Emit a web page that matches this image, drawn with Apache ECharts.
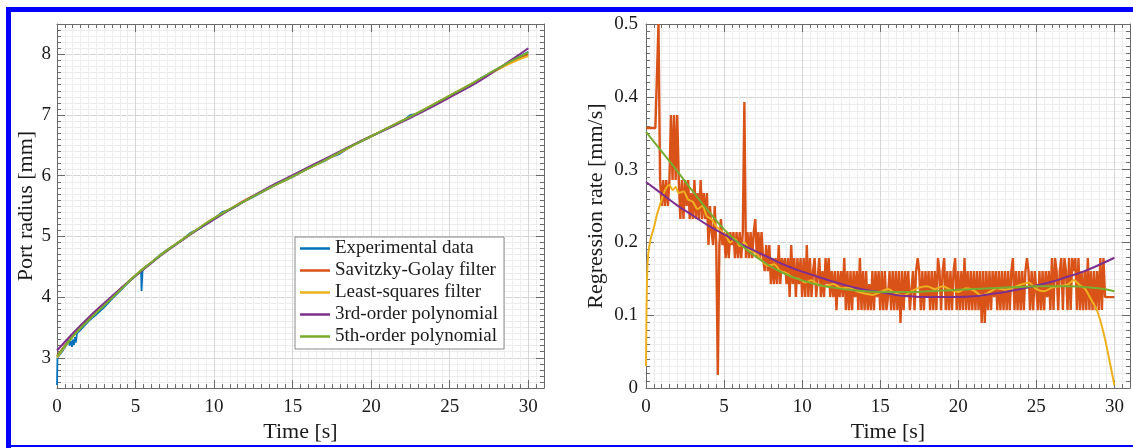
<!DOCTYPE html>
<html>
<head>
<meta charset="utf-8">
<script src="https://cdn.jsdelivr.net/npm/echarts@6.0.0/dist/echarts.min.js"></script>
<style>
  html, body { margin: 0; padding: 0; background: #ffffff; }
  #chart { width: 1133px; height: 448px; }
</style>
</head>
<body>
<div id="chart"></div>
<script>
// ---------- series names and colours ----------
const seriesNames = ['Experimental data', 'Savitzky-Golay filter', 'Least-squares filter',
                     '3rd-order polynomial', '5th-order polynomial'];
const seriesColors = ['#0072BD', '#D95319', '#EDB120', '#7E2F8E', '#77AC30'];

// ---------- port radius [mm] ----------
// measured radius: [time s, radius mm]
const expRadius = [
  [0, 2.55], [0.01, 2.7], [0.02, 2.86], [0.03, 3.0], [0.2, 3.06], [0.4, 3.13], [0.6, 3.21],
  [0.72, 3.32], [0.8, 3.2], [0.88, 3.28], [0.95, 3.18], [1.02, 3.3], [1.08, 3.21], [1.14, 3.34],
  [1.2, 3.25], [1.27, 3.4], [1.5, 3.46], [2, 3.6], [2.5, 3.71], [3, 3.83], [3.5, 3.97],
  [4, 4.1], [4.5, 4.23], [5, 4.35], [5.35, 4.44], [5.38, 4.1], [5.42, 4.13], [5.45, 4.46],
  [6, 4.57], [6.5, 4.68], [7, 4.78], [7.5, 4.86], [8, 4.95], [8.5, 5.06], [9, 5.12],
  [9.5, 5.2], [10, 5.29], [10.5, 5.4], [11, 5.44], [11.5, 5.51], [12, 5.59], [12.5, 5.65],
  [13, 5.72], [13.5, 5.79], [14, 5.86], [14.5, 5.92], [15, 5.98], [15.5, 6.05], [16, 6.12],
  [16.5, 6.18], [17, 6.24], [17.5, 6.31], [18, 6.36], [18.5, 6.45], [19, 6.52], [19.5, 6.58],
  [20, 6.65], [20.5, 6.71], [21, 6.78], [21.5, 6.84], [22, 6.9], [22.5, 7.0], [23, 7.03],
  [23.5, 7.1], [24, 7.17], [24.5, 7.24], [25, 7.3], [25.5, 7.38], [26, 7.45], [26.5, 7.52],
  [27, 7.61], [27.5, 7.68], [28, 7.75], [28.5, 7.82], [29, 7.9], [29.5, 7.97], [30, 8.04]
];
// fitted / filtered curves sampled every second
const fitTime = [0, 1, 2, 3, 4, 5, 6, 7, 8, 9, 10, 11, 12, 13, 14, 15, 16, 17, 18, 19, 20,
                 21, 22, 23, 24, 25, 26, 27, 28, 29, 30];
const radiusSG = [3.03, 3.36, 3.63, 3.87, 4.12, 4.36, 4.57, 4.77, 4.95, 5.13, 5.3, 5.45, 5.6,
                  5.73, 5.86, 5.99, 6.12, 6.25, 6.38, 6.52, 6.65, 6.78, 6.91, 7.04, 7.18, 7.32,
                  7.46, 7.6, 7.75, 7.89, 8.0];
const radiusLS = [3.0, 3.35, 3.62, 3.87, 4.12, 4.36, 4.57, 4.77, 4.95, 5.13, 5.3, 5.45, 5.59,
                  5.73, 5.86, 5.99, 6.12, 6.25, 6.38, 6.52, 6.65, 6.78, 6.91, 7.04, 7.18, 7.32,
                  7.46, 7.6, 7.74, 7.87, 7.97];
const radiusPoly3 = [3.12, 3.4, 3.66, 3.9, 4.13, 4.35, 4.56, 4.76, 4.94, 5.12, 5.28, 5.44, 5.59,
                     5.74, 5.88, 6.01, 6.14, 6.27, 6.4, 6.53, 6.65, 6.77, 6.89, 7.02, 7.15, 7.29,
                     7.43, 7.58, 7.75, 7.92, 8.1];
const radiusPoly5 = [3.02, 3.35, 3.62, 3.86, 4.11, 4.36, 4.57, 4.77, 4.95, 5.13, 5.3, 5.45, 5.59,
                     5.73, 5.86, 5.99, 6.12, 6.25, 6.39, 6.52, 6.65, 6.78, 6.91, 7.04, 7.18, 7.32,
                     7.46, 7.61, 7.76, 7.9, 8.03];

// ---------- regression rate [mm/s] ----------
// Savitzky-Golay output is quantised: one base-36 digit per 0.1 s sample,
// each digit counts steps of 1/56 mm/s
const sgTimeStep = 0.1;
const sgLevelStep = 1 / 56;
const sgLevels =
  'kkkkkkkksg' + 'egegeglglg' + 'lgdgdgegdf' + 'dgdfdgdfdf' + 'becbeb1bdb' +
  'cacacbcaca' + 'cacmacacac' + 'dacaca9b9b' + '8a8a8b8a9a' + '8a7b8a7a8a' +
  '7a7b7a79a7' + '7a797a8a79' + '7969797a69' + '6969796a69' + '6968696979' +
  '6969679696' + '9695969796' + '6969a96969' + '7969696a96' + '9a696969a6' +
  '9696a69696' + '9696959596' + '9697969696' + '96969a6969' + '6969a96969' +
  '9696969796' + 'a6a969a6a9' + '6a6a9a6a69' + '696a696969' + '6a6a777777' + '7';
// least-squares filter: [time s, rate mm/s]
const rateLS = [
  [0, 0.03], [0.03, 0.1], [0.08, 0.16], [0.15, 0.185], [0.3, 0.205], [0.5, 0.22], [0.7, 0.238],
  [0.9, 0.252], [1.1, 0.265], [1.3, 0.275], [1.5, 0.279], [1.7, 0.272], [1.9, 0.276], [2.1, 0.268],
  [2.4, 0.27], [2.7, 0.259], [3.0, 0.256], [3.3, 0.246], [3.6, 0.25], [3.9, 0.236], [4.2, 0.232],
  [4.5, 0.222], [4.8, 0.216], [5.1, 0.21], [5.4, 0.2], [5.7, 0.205], [6.0, 0.195], [6.3, 0.2],
  [6.6, 0.19], [7.0, 0.186], [7.4, 0.176], [7.8, 0.168], [8.2, 0.17], [8.6, 0.161], [9.0, 0.158],
  [9.4, 0.152], [9.8, 0.15], [10.2, 0.145], [10.6, 0.148], [11.0, 0.142], [11.5, 0.14], [12, 0.143],
  [12.5, 0.137], [13, 0.138], [13.5, 0.133], [14, 0.13], [14.5, 0.128], [15, 0.132], [15.5, 0.136],
  [16, 0.13], [16.5, 0.127], [17, 0.133], [17.5, 0.138], [18, 0.14], [18.5, 0.136], [19, 0.14],
  [19.5, 0.135], [20, 0.132], [20.5, 0.137], [21, 0.134], [21.5, 0.127], [22, 0.132], [22.5, 0.137],
  [23, 0.135], [23.5, 0.138], [24, 0.142], [24.5, 0.145], [25, 0.136], [25.5, 0.133], [26, 0.138],
  [26.5, 0.14], [27, 0.142], [27.4, 0.148], [27.8, 0.141], [28.1, 0.137], [28.5, 0.122],
  [28.9, 0.106], [29.35, 0.072], [29.75, 0.031], [30, 0.004]
];
const ratePoly3 = [0.283, 0.267, 0.251, 0.237, 0.223, 0.211, 0.199, 0.188, 0.178, 0.168, 0.16,
                   0.153, 0.146, 0.14, 0.135, 0.132, 0.128, 0.126, 0.125, 0.125, 0.125, 0.126,
                   0.129, 0.132, 0.136, 0.141, 0.146, 0.153, 0.16, 0.169, 0.179];
const ratePoly5 = [0.352, 0.325, 0.298, 0.27, 0.243, 0.218, 0.198, 0.181, 0.167, 0.156, 0.148,
                   0.142, 0.138, 0.135, 0.133, 0.132, 0.132, 0.132, 0.133, 0.134, 0.135, 0.136,
                   0.137, 0.138, 0.139, 0.14, 0.14, 0.14, 0.139, 0.137, 0.133];

// ---------- helpers ----------
const FONT = "'Liberation Serif', 'Times New Roman', serif";
const TEXT = '#1a1a1a';
const AXIS = '#6a6a6a';
const pairs = (xs, ys) => xs.map((x, i) => [x, ys[i]]);
const sgData = sgLevels.split('').map((c, i) =>
  [Math.round(i * sgTimeStep * 10) / 10, parseInt(c, 36) * sgLevelStep]);

function axis(base, extra) {
  return Object.assign({
    type: 'value',
    axisLine: { show: true, onZero: false, lineStyle: { color: AXIS, width: 1 } },
    axisTick: { show: true, inside: true, length: 8, lineStyle: { color: AXIS, width: 1 } },
    minorTick: { show: true, splitNumber: 10, length: 4, lineStyle: { color: AXIS, width: 1 } },
    splitLine: { show: false },
    minorSplitLine: { show: false },
    axisLabel: { show: false }
  }, base, extra);
}
const gridLines = {
  splitLine: { show: true, lineStyle: { color: '#d6d6d6', width: 1 } },
  minorSplitLine: { show: true, lineStyle: { color: '#ededed', width: 1 } }
};
const tickFont = { fontFamily: FONT, fontSize: 19, color: TEXT };
const titleFont = { fontFamily: FONT, fontSize: 22, color: TEXT };

const timeAxis = (grid) => ({ gridIndex: grid, min: 0, max: 31, splitNumber: 6, minInterval: 5, maxInterval: 5 });
const radiusAxis = { gridIndex: 0, min: 2.5, max: 8.5, splitNumber: 6, minInterval: 1, maxInterval: 1 };
const rateAxis = { gridIndex: 1, min: 0, max: 0.5, splitNumber: 5, minInterval: 0.1, maxInterval: 0.1 };

const xLabel = {
  show: true, margin: 9, ...tickFont,
  formatter: v => (Math.abs(v / 5 - Math.round(v / 5)) < 1e-9 ? String(Math.round(v)) : '')
};
const xName = {
  name: 'Time [s]', nameLocation: 'middle', nameGap: 30, nameTextStyle: titleFont
};

const line = (name, idx, data, gi, extra) => Object.assign({
  name: name, type: 'line', xAxisIndex: gi * 2, yAxisIndex: gi * 2, data: data,
  showSymbol: false, symbol: 'none', animation: false, silent: true,
  itemStyle: { color: seriesColors[idx] },
  lineStyle: { color: seriesColors[idx], width: 2 }
}, extra);

const option = {
  animation: false,
  grid: [
    { left: 57, right: 589, top: 24, bottom: 59 },
    { left: 646, right: 1, top: 24, bottom: 59 }
  ],
  xAxis: [
    axis(timeAxis(0), Object.assign({ position: 'bottom', axisLabel: xLabel }, gridLines, xName)),
    axis(timeAxis(0), { position: 'top' }),
    axis(timeAxis(1), Object.assign({ position: 'bottom', axisLabel: xLabel }, gridLines, xName)),
    axis(timeAxis(1), { position: 'top' })
  ],
  yAxis: [
    axis(radiusAxis, Object.assign({
      position: 'left',
      axisLabel: { show: true, margin: 6, ...tickFont,
        formatter: v => (Math.abs(v - Math.round(v)) < 1e-9 ? String(Math.round(v)) : '') },
      name: 'Port radius [mm]', nameLocation: 'middle', nameGap: 18, nameTextStyle: titleFont
    }, gridLines)),
    axis(radiusAxis, { position: 'right' }),
    axis(rateAxis, Object.assign({
      position: 'left',
      axisLabel: { show: true, margin: 8, ...tickFont,
        formatter: v => {
          const k = Math.round(v * 10);
          if (Math.abs(v * 10 - k) > 1e-6) return '';
          return k === 0 ? '0' : (k / 10).toFixed(1);
        } },
      name: 'Regression rate [mm/s]', nameLocation: 'middle', nameGap: 39, nameTextStyle: titleFont
    }, gridLines)),
    axis(rateAxis, { position: 'right' })
  ],
  legend: {
    data: seriesNames,
    orient: 'vertical',
    left: 295, top: 237,
    icon: 'rect', itemWidth: 30, itemHeight: 2.5, itemGap: 3,
    backgroundColor: '#ffffff', borderColor: '#8a8a8a', borderWidth: 1, borderRadius: 0,
    padding: [2, 6, 3, 5],
    selectedMode: false,
    textStyle: { fontFamily: FONT, fontSize: 19, color: TEXT, lineHeight: 19 }
  },
  graphic: [
    { type: 'rect', shape: { x: 6, y: 7, width: 5, height: 441 }, style: { fill: '#0000ff' }, z: 100 },
    { type: 'rect', shape: { x: 6, y: 7, width: 1127, height: 5 }, style: { fill: '#0000ff' }, z: 100 },
    { type: 'rect', shape: { x: 6, y: 445, width: 1127, height: 2 }, style: { fill: '#0000ff' }, z: 100 }
  ],
  series: [
    // port radius
    line(seriesNames[0], 0, expRadius, 0, { lineStyle: { color: seriesColors[0], width: 1.8 } }),
    line(seriesNames[1], 1, pairs(fitTime, radiusSG), 0, { smooth: true }),
    line(seriesNames[2], 2, pairs(fitTime, radiusLS), 0, { smooth: true }),
    line(seriesNames[3], 3, pairs(fitTime, radiusPoly3), 0, { smooth: true }),
    line(seriesNames[4], 4, pairs(fitTime, radiusPoly5), 0, { smooth: true }),
    // regression rate: dense quantised trace, drawn sample to sample
    line(seriesNames[1], 1, sgData, 1, { lineStyle: { color: seriesColors[1], width: 2.4 } }),
    line(seriesNames[2], 2, rateLS, 1, { smooth: 0.3 }),
    line(seriesNames[3], 3, pairs(fitTime, ratePoly3), 1, { smooth: true }),
    line(seriesNames[4], 4, pairs(fitTime, ratePoly5), 1, { smooth: true })
  ]
};

const chart = echarts.init(document.getElementById('chart'), null, { renderer: 'canvas' });
chart.setOption(option);
</script>
</body>
</html>
